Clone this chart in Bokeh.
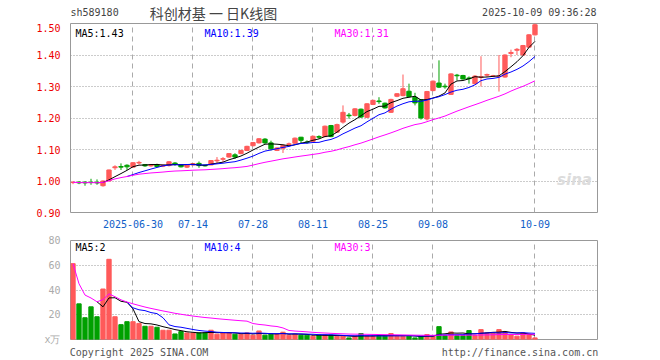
import numpy as np
import pandas as pd
from bokeh.plotting import figure
from bokeh.layouts import column
from bokeh.models import Range1d, FixedTicker, NumeralTickFormatter, Label, ColumnDataSource
from bokeh.embed import file_html
from bokeh.resources import INLINE

# ---- data ----
opens = [0.995, 0.996, 0.996, 0.996, 0.996, 0.985, 1.000, 1.042, 1.046, 1.050,
         1.044, 1.057, 1.052, 1.048, 1.052, 1.047, 1.049, 1.057, 1.052, 1.044,
         1.051, 1.056, 1.050, 1.051, 1.064, 1.069, 1.076, 1.083, 1.087, 1.097,
         1.112, 1.121, 1.133, 1.121, 1.097, 1.104, 1.116, 1.120, 1.139, 1.124,
         1.126, 1.141, 1.141, 1.176, 1.155, 1.187, 1.209, 1.208, 1.228, 1.202,
         1.243, 1.254, 1.247, 1.218, 1.269, 1.271, 1.285, 1.266, 1.258, 1.197,
         1.287, 1.311, 1.301, 1.275, 1.336, 1.335, 1.327, 1.309, 1.329, 1.336,
         1.332, 1.331, 1.330, 1.405, 1.415, 1.400, 1.425, 1.464]
highs = [1.000, 1.000, 1.000, 1.007, 1.005, 1.002, 1.036, 1.050, 1.056, 1.053,
         1.060, 1.064, 1.054, 1.054, 1.055, 1.052, 1.063, 1.060, 1.053, 1.052,
         1.057, 1.062, 1.052, 1.066, 1.076, 1.076, 1.088, 1.088, 1.099, 1.112,
         1.124, 1.136, 1.136, 1.128, 1.107, 1.115, 1.122, 1.138, 1.140, 1.129,
         1.144, 1.145, 1.176, 1.178, 1.182, 1.240, 1.216, 1.231, 1.230, 1.247,
         1.258, 1.266, 1.249, 1.261, 1.279, 1.338, 1.309, 1.280, 1.260, 1.286,
         1.319, 1.383, 1.309, 1.342, 1.340, 1.337, 1.332, 1.336, 1.396, 1.341,
         1.337, 1.400, 1.402, 1.417, 1.422, 1.432, 1.466, 1.500]
lows = [0.990, 0.990, 0.985, 0.988, 0.988, 0.982, 0.999, 1.035, 1.035, 1.035,
        1.043, 1.052, 1.045, 1.045, 1.044, 1.044, 1.046, 1.048, 1.043, 1.041,
        1.049, 1.042, 1.046, 1.050, 1.055, 1.060, 1.074, 1.070, 1.085, 1.095,
        1.110, 1.119, 1.118, 1.097, 1.095, 1.089, 1.113, 1.118, 1.118, 1.118,
        1.124, 1.134, 1.139, 1.139, 1.153, 1.182, 1.198, 1.205, 1.200, 1.200,
        1.241, 1.245, 1.230, 1.216, 1.266, 1.269, 1.266, 1.240, 1.195, 1.192,
        1.285, 1.295, 1.293, 1.273, 1.319, 1.322, 1.309, 1.307, 1.300, 1.331,
        1.330, 1.284, 1.328, 1.393, 1.400, 1.398, 1.423, 1.462]
closes = [0.996, 0.994, 0.994, 0.995, 0.994, 1.000, 1.035, 1.045, 1.044, 1.045,
          1.058, 1.059, 1.048, 1.051, 1.046, 1.050, 1.061, 1.054, 1.045, 1.051,
          1.055, 1.049, 1.048, 1.065, 1.066, 1.071, 1.087, 1.076, 1.097, 1.110,
          1.122, 1.134, 1.121, 1.102, 1.105, 1.113, 1.118, 1.136, 1.129, 1.122,
          1.142, 1.139, 1.174, 1.141, 1.179, 1.218, 1.207, 1.229, 1.203, 1.245,
          1.256, 1.252, 1.232, 1.259, 1.277, 1.293, 1.268, 1.248, 1.200, 1.284,
          1.317, 1.298, 1.299, 1.340, 1.334, 1.324, 1.325, 1.333, 1.331, 1.338,
          1.334, 1.333, 1.400, 1.408, 1.418, 1.430, 1.464, 1.496]
volumes = [61.3, 28.8, 17.6, 26.4, 18.4, 40.8, 64.8, 18.4, 12.0, 14.4,
           14.4, 13.0, 10.7, 10.7, 9.9, 7.5, 7.5, 4.5, 6.4, 5.3,
           5.3, 5.3, 5.3, 7.5, 4.3, 5.3, 5.3, 4.3, 4.3, 5.3,
           3.5, 6.9, 3.5, 4.3, 4.3, 5.9, 3.5, 4.3, 3.5, 3.5,
           2.7, 3.5, 3.5, 3.5, 2.7, 2.7, 1.3, 2.7, 4.8, 2.7,
           2.7, 2.7, 2.7, 4.8, 2.7, 2.7, 2.7, 1.3, 2.7, 4.0,
           2.7, 10.4, 3.2, 6.1, 3.2, 3.2, 7.2, 3.2, 8.0, 5.3,
           5.3, 8.0, 6.1, 4.0, 2.7, 5.3, 4.0, 1.3]

date_tick_idx = [10, 20, 30, 40, 50, 60, 77]
date_tick_labels = ["2025-06-30", "07-14", "07-28", "08-11", "08-25", "09-08", "10-09"]
price_ticks = [0.9, 1.0, 1.1, 1.2, 1.3, 1.4, 1.5]
vol_label_ticks = [0, 20, 40, 60, 80]
vol_label_texts = ["x万", "20", "40", "60", "80"]
vol_grid_ticks = [20, 40, 60]

header_code = "sh589180"
header_title = "科创材基 一 日K线图"
header_time = "2025-10-09 09:36:28"
price_ma_labels = ["MA5:1.43", "MA10:1.39", "MA30:1.31"]
vol_ma_labels = ["MA5:2", "MA10:4", "MA30:3"]
footer_texts = ["Copyright 2025 SINA.COM", "http://finance.sina.com.cn"]
footer_pos = [11, 74.5]

# ---- styles ----
RED = "#ff5a5a"
GREEN = "#00a000"
MA_COLORS = ["#000000", "#0000ff", "#ff00ff"]
MONO = "DejaVu Sans Mono"
GRID = "#aaaaaa"
W = 610
FL, FR = 70, 597  # frame left / right in page pixels

n = len(closes)
idx = np.arange(n)
colors = [RED if c >= o else GREEN for o, c in zip(opens, closes)]
tops = [max(o, c) for o, c in zip(opens, closes)]
bots = [min(o, c) for o, c in zip(opens, closes)]

cs = pd.Series(closes)
p_ma = [cs.rolling(5).mean().values, cs.rolling(10).mean().values,
        cs.rolling(30, min_periods=1).mean().values]
vs = pd.Series(volumes)
v_ma = [vs.rolling(5).mean().values, vs.rolling(10).mean().values,
        vs.rolling(30, min_periods=1).mean().values]

src = ColumnDataSource(dict(x=idx, o=opens, h=highs, l=lows, c=closes,
                            top=tops, bot=bots, col=colors, v=volumes,
                            left=idx - 0.36, right=idx + 0.36))

X0, X1 = -0.417, 87.42
xr = Range1d(X0, X1)

def px_to_x(px):
    return X0 + (px - FL) / (FR - FL) * (X1 - X0)

def style(p):
    p.outline_line_color = "#999999"
    p.outline_line_width = 1
    for ax in (p.xaxis, p.yaxis):
        ax.axis_line_color = None
        ax.major_tick_line_color = None
        ax.minor_tick_line_color = None
        ax.major_label_text_font = MONO
        ax.major_label_text_font_size = "10px"
    p.xgrid.grid_line_color = GRID
    p.xgrid.grid_line_dash = "5 4"
    p.ygrid.grid_line_color = "#999999"
    p.ygrid.grid_line_dash = "1 2"
    p.background_fill_color = "white"
    p.border_fill_color = "white"

# ---- header strip (frame aligned with the panels below) ----
ph = figure(width=W, height=23, x_range=Range1d(FL, FR), y_range=Range1d(23, 0),
            output_backend="svg", toolbar_location=None,
            min_border_left=FL, min_border_right=W - FR, min_border_top=0, min_border_bottom=0)
ph.axis.visible = False
ph.grid.visible = False
ph.outline_line_color = None
ph.add_layout(Label(x=FL, y=12, text=header_code, text_font=MONO,
                    text_font_size="10px", text_baseline="middle", text_align="left"))
ph.add_layout(Label(x=213, y=12, text=header_title, text_font="Noto Sans CJK SC",
                    text_font_size="14px", text_baseline="middle", text_align="center"))
ph.add_layout(Label(x=FR - 1, y=12, text=header_time, text_font=MONO,
                    text_font_size="10px", text_baseline="middle", text_align="right"))

# ---- price panel ----
p1 = figure(width=W, height=209, x_range=xr, y_range=Range1d(0.9, 1.5),
            output_backend="svg", toolbar_location=None,
            min_border_left=FL, min_border_right=W - FR, min_border_top=0, min_border_bottom=20)
style(p1)
p1.yaxis.ticker = FixedTicker(ticks=price_ticks)
p1.yaxis.formatter = NumeralTickFormatter(format="0.00")
p1.yaxis.major_label_text_color = "#ee0000"
p1.yaxis.major_label_standoff = 4
p1.xaxis.ticker = FixedTicker(ticks=date_tick_idx)
p1.xaxis.major_label_overrides = {i: t for i, t in zip(date_tick_idx, date_tick_labels)}
p1.xaxis.major_label_text_color = "#1060c8"
p1.xaxis.major_label_standoff = 1
p1.xgrid.ticker = FixedTicker(ticks=date_tick_idx)
p1.ygrid.ticker = FixedTicker(ticks=price_ticks)

p1.segment(x0="x", y0="l", x1="x", y1="h", color="col", line_width=1, source=src)
p1.quad(left="left", right="right", top="top", bottom="bot",
        fill_color="col", line_color="col", line_width=1, source=src)
for ma, col in zip(p_ma, MA_COLORS):
    p1.line(idx, ma, color=col, line_width=1)

def py_price(py):
    return 1.5 - (py - 23) * 0.6 / 189

for lab, col, px in zip(price_ma_labels, MA_COLORS, [75, 204, 334]):
    p1.add_layout(Label(x=px_to_x(px), y=py_price(33), text=lab, text_font=MONO,
                        text_font_size="10px", text_color=col,
                        text_baseline="middle", text_align="left"))
p1.add_layout(Label(x=px_to_x(574), y=py_price(179), text="sina", text_font="DejaVu Sans",
                    text_font_size="15px", text_font_style="bold italic", text_color="#dcdcdc",
                    text_baseline="middle", text_align="center"))

# ---- volume panel ----
p2 = figure(width=W, height=128, x_range=xr, y_range=Range1d(0, 80),
            output_backend="svg", toolbar_location=None,
            min_border_left=FL, min_border_right=W - FR, min_border_top=8, min_border_bottom=20)
style(p2)
p2.xaxis.ticker = FixedTicker(ticks=footer_pos)
p2.xaxis.major_label_overrides = {k: t for k, t in zip(footer_pos, footer_texts)}
p2.xaxis.major_label_text_color = "#555555"
p2.xaxis.major_label_standoff = 1
p2.xgrid.ticker = FixedTicker(ticks=date_tick_idx)
p2.yaxis.ticker = FixedTicker(ticks=vol_label_ticks)
p2.yaxis.major_label_overrides = {k: t for k, t in zip(vol_label_ticks, vol_label_texts)}
p2.yaxis.major_label_text_color = "#aaaaaa"
p2.yaxis.major_label_standoff = 4
p2.ygrid.ticker = FixedTicker(ticks=vol_grid_ticks)

p2.quad(left="left", right="right", top="v", bottom=0,
        fill_color="col", line_color="col", line_width=1, source=src)
for ma, col in zip(v_ma, MA_COLORS):
    p2.line(idx, ma, color=col, line_width=1)

def py_vol(py):
    return 80 - (py - 240) * 0.8

for lab, col, px in zip(vol_ma_labels, MA_COLORS, [75, 204, 334]):
    p2.add_layout(Label(x=px_to_x(px), y=py_vol(247), text=lab, text_font=MONO,
                        text_font_size="10px", text_color=col,
                        text_baseline="middle", text_align="left"))

layout = column(ph, p1, p2, spacing=0)
open("out.html", "w").write(file_html(layout, INLINE))
